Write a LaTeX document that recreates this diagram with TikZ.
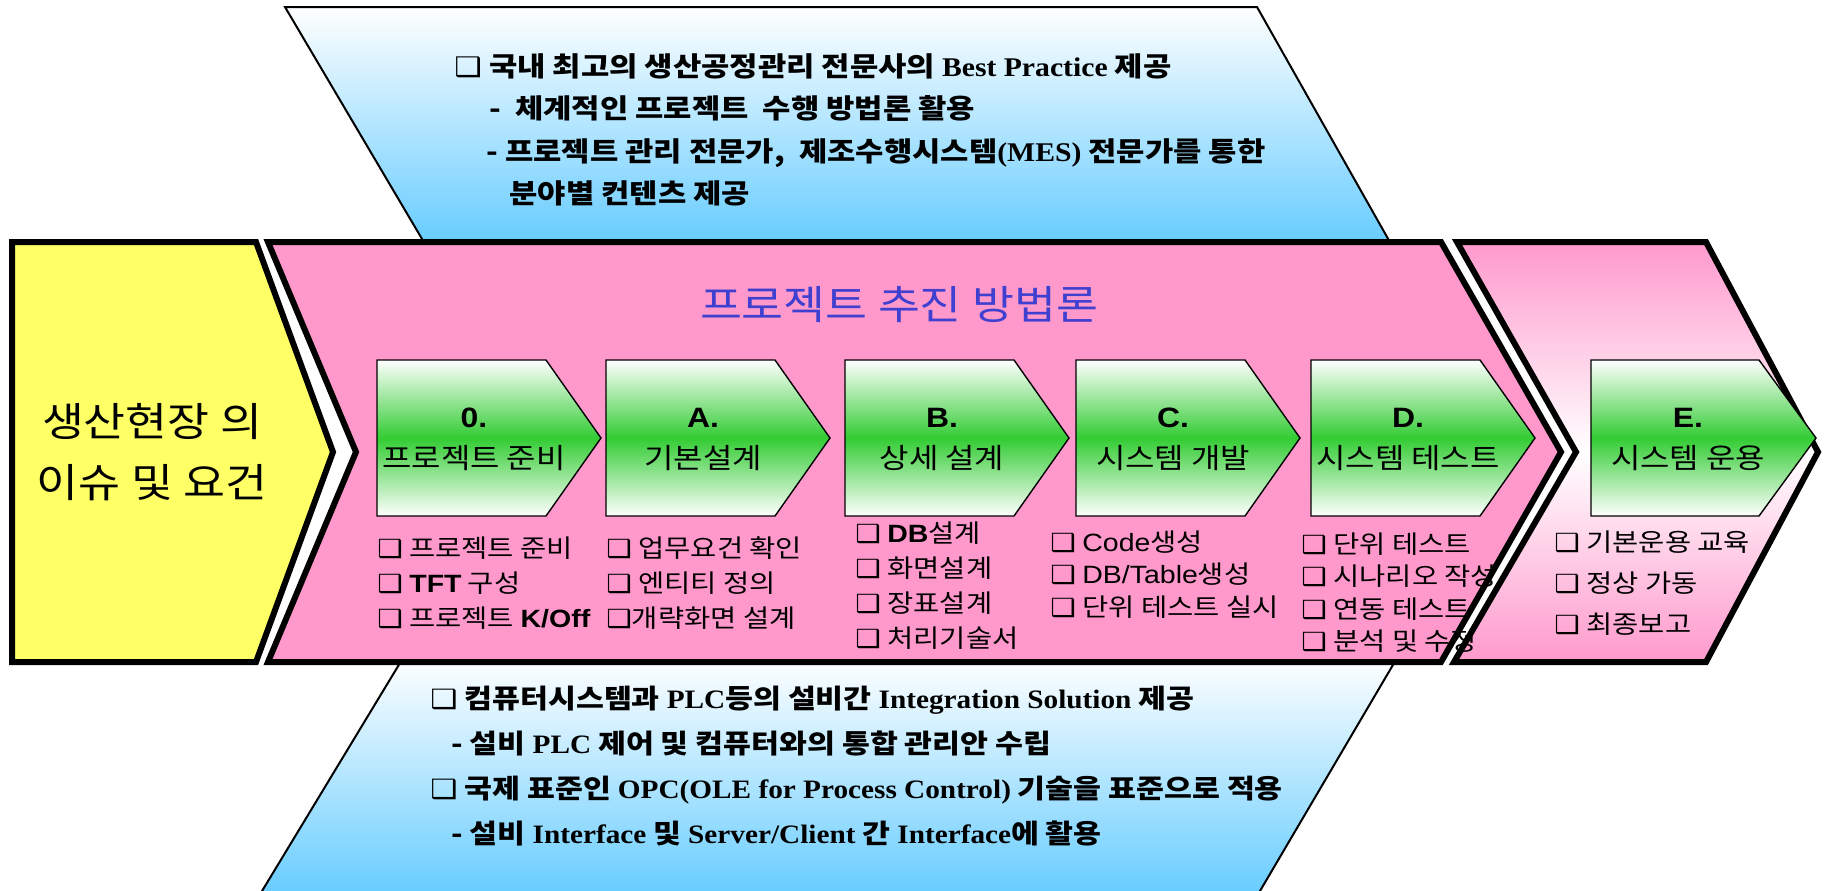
\documentclass[tikz,border=0pt]{standalone}
\usepackage{fontspec}
\setmainfont{Noto Sans CJK KR}[FakeStretch=1.14]
\newfontfamily\dingfont{DejaVu Sans}[FakeStretch=1.14]
\newfontfamily\arialfont{Liberation Sans}[FakeStretch=1.14]
\newfontfamily\romanfont{Liberation Serif}[FakeStretch=1.1]

\definecolor{pinkfill}{RGB}{255,153,204}
\definecolor{yellowfill}{RGB}{255,255,102}
\definecolor{skyfill}{RGB}{102,204,255}
\definecolor{stepgreen}{RGB}{51,204,51}
\definecolor{titleblue}{RGB}{64,64,208}

\newcommand{\chk}{{\dingfont\bfseries ❑}}
\newcommand{\arb}[1]{{\arialfont\bfseries #1}}
\newcommand{\arr}[1]{{\arialfont #1}}
\newcommand{\tmb}[1]{{\romanfont\bfseries #1}}

\begin{document}
\begin{tikzpicture}[x=0.5pt,y=-0.5pt]
  % Define styles for shapes and texts
  \tikzstyle{outline} = [draw=black, line width=3pt]
  \tikzstyle{stepbox} = [draw=black, line width=0.7pt, top color=white,
  bottom color=white, middle color=stepgreen]
  \tikzstyle{steptitle} = [inner sep=0pt,
  font=\arialfont\bfseries\fontsize{14}{16}\selectfont]
  \tikzstyle{stepname} = [inner sep=0pt, font=\fontsize{14}{17}\selectfont]
  \tikzstyle{tasks} = [anchor=north west, align=left, inner sep=0pt,
  font=\fontsize{12.5}{17.5}\selectfont]
  \tikzstyle{remarks} = [anchor=north west, align=left, inner sep=0pt,
  font=\bfseries\fontsize{13.5}{21.25}\selectfont]

  \useasboundingbox (0,0) rectangle (1824,890);

  % Blue panels at top and bottom
  \shade[top color=white, bottom color=skyfill, draw=black, line width=1pt]
  (285,7) -- (1257,7) -- (1391,244) -- (425,244) -- cycle;
  \shade[top color=white, bottom color=skyfill, draw=black, line width=1pt]
  (403,658) -- (1397,658) -- (1257,896) -- (259,896) -- cycle;

  % Big chevrons
  \filldraw[outline, fill=yellowfill]
  (12,242) -- (256,242) -- (333,452) -- (256,662) -- (12,662) -- cycle;
  \filldraw[outline, fill=pinkfill]
  (268,242) -- (1441,242) -- (1561,452) -- (1441,662) -- (268,662) -- (356,452) -- cycle;
  \shade[outline, top color=pinkfill, bottom color=pinkfill, middle color=white]
  (1457,242) -- (1706,242) -- (1818,452) -- (1706,662) -- (1454,662) -- (1576,452) -- cycle;

  % Step boxes
  \shade[stepbox] (377,360) -- ++(169,0) -- ++(55,78) -- ++(-55,78) -- ++(-169,0) -- cycle;
  \shade[stepbox] (606,360) -- ++(169,0) -- ++(55,78) -- ++(-55,78) -- ++(-169,0) -- cycle;
  \shade[stepbox] (845,360) -- ++(169,0) -- ++(55,78) -- ++(-55,78) -- ++(-169,0) -- cycle;
  \shade[stepbox] (1076,360) -- ++(169,0) -- ++(55,78) -- ++(-55,78) -- ++(-169,0) -- cycle;
  \shade[stepbox] (1311,360) -- ++(169,0) -- ++(55,78) -- ++(-55,78) -- ++(-169,0) -- cycle;
  \shade[stepbox] (1591,360) -- ++(168,0) -- ++(57,78) -- ++(-57,78) -- ++(-168,0) -- cycle;

  % Step labels
  \node[steptitle] (n0) at (474,418) {0.};
  \node[stepname] (t0) at (474,458) {프로젝트 준비};
  \node[steptitle] (nA) at (703,418) {A.};
  \node[stepname] (tA) at (703,458) {기본설계};
  \node[steptitle] (nB) at (942,418) {B.};
  \node[stepname] (tB) at (942,458) {상세 설계};
  \node[steptitle] (nC) at (1173,418) {C.};
  \node[stepname] (tC) at (1173,458) {시스템 개발};
  \node[steptitle] (nD) at (1408,418) {D.};
  \node[stepname] (tD) at (1408,458) {시스템 테스트};
  \node[steptitle] (nE) at (1688,418) {E.};
  \node[stepname] (tE) at (1688,458) {시스템 운용};

  % Title and issue
  \node[inner sep=0pt, text=titleblue, font=\fontsize{20}{24}\selectfont]
  (title) at (899,305) {프로젝트 추진 방법론};
  \node[inner sep=0pt, align=center, font=\fontsize{20}{30.5}\selectfont]
  (issue) at (152,452) {생산현장 의\\이슈 및 요건};

  % Task lists under the steps
  \node[tasks] (l0) at (377,536) {\chk\ 프로젝트 준비\\\chk\ \arb{TFT} 구성\\\chk\ 프로젝트 \arb{K/Off}};
  \node[tasks] (lA) at (606,536) {\chk\ 업무요건 확인\\\chk\ 엔티티 정의\\\chk{}개략화면 설계};
  \node[tasks] (lB) at (855,521) {\chk\ \arb{DB}설계\\\chk\ 화면설계\\\chk\ 장표설계\\\chk\ 처리기술서};
  \node[tasks, font=\fontsize{12.5}{16.25}\selectfont]
  (lC) at (1050,530) {\chk\ \arr{Code}생성\\\chk\ \arr{DB/Table}생성\\\chk\ 단위 테스트 실시};
  \node[tasks, font=\fontsize{12.5}{16.25}\selectfont]
  (lD) at (1301,532) {\chk\ 단위 테스트\\\chk\ 시나리오 작성\\\chk\ 연동 테스트\\\chk\ 분석 및 수정};
  \node[tasks, font=\fontsize{12.5}{20.5}\selectfont]
  (lE) at (1554,530) {\chk\ 기본운용 교육\\\chk\ 정상 가동\\\chk\ 최종보고};

  % Remarks in the blue panels
  \node[remarks] (best) at (454,53) {\chk\ 국내 최고의 생산공정관리 전문사의 \tmb{Best Practice} 제공\\
    \hspace*{17.5pt}-\ \ 체계적인 프로젝트\ \ 수행 방법론 활용\\
    \hspace*{16pt}- 프로젝트 관리 전문가,\ \ 제조수행시스템\tmb{(MES)} 전문가를 통한\\
    \hspace*{27.5pt}분야별 컨텐츠 제공};
  \node[remarks, font=\bfseries\fontsize{13.3}{22.5}\selectfont] (integ) at (430,686)
  {\chk\ 컴퓨터시스템과 \tmb{PLC}등의 설비간 \tmb{Integration Solution} 제공\\
    \hspace*{10.5pt}- 설비 \tmb{PLC} 제어 및 컴퓨터와의 통합 관리안 수립\\
    \chk\ 국제 표준인 \tmb{OPC(OLE for Process Control)} 기술을 표준으로 적용\\
    \hspace*{10.5pt}- 설비 \tmb{Interface} 및 \tmb{Server/Client} 간 \tmb{Interface}에 활용};
\end{tikzpicture}
\end{document}
